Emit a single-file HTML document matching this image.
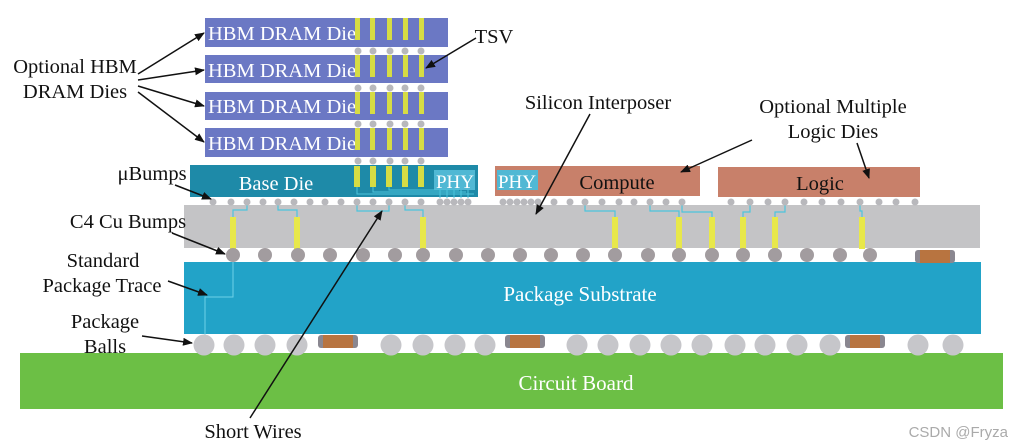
<!DOCTYPE html>
<html><head><meta charset="utf-8"><style>
html,body{margin:0;padding:0;background:#fff;}
svg{display:block;font-family:"Liberation Serif",serif;}
</style></head><body>
<svg width="1017" height="448" viewBox="0 0 1017 448" xmlns="http://www.w3.org/2000/svg">
<defs><marker id="a" markerWidth="10" markerHeight="8" refX="9" refY="4" orient="auto" markerUnits="userSpaceOnUse"><path d="M0,0 L10,4 L0,8 z" fill="#111"/></marker></defs>
<!-- board -->
<rect x="20" y="353" width="983" height="56" fill="#6cbf45"/>
<text x="576" y="390" font-size="21" fill="#fff" text-anchor="middle">Circuit Board</text>
<!-- substrate -->
<rect x="184" y="262" width="797" height="72" fill="#22a3c8"/>
<text x="580" y="301" font-size="21" fill="#fff" text-anchor="middle">Package Substrate</text>
<polyline points="233,262 233,297 205,297 205,336" fill="none" stroke="#6fd0e8" stroke-width="1"/>
<!-- interposer -->
<rect x="184" y="205" width="796" height="43" fill="#c4c4c6"/>
<g fill="#e8e84a">
<rect x="230" y="217" width="6" height="32"/><rect x="294" y="217" width="6" height="32"/><rect x="420" y="217" width="6" height="32"/>
<rect x="612" y="217" width="6" height="32"/><rect x="676" y="217" width="6" height="32"/><rect x="709" y="217" width="6" height="32"/>
<rect x="740" y="217" width="6" height="32"/><rect x="772" y="217" width="6" height="32"/><rect x="859" y="217" width="6" height="32"/>
</g>
<g fill="none" stroke="#4cc4dc" stroke-width="1.2">
<polyline points="247,203 247,210 233,210 233,217"/>
<polyline points="278,203 278,210 297,210 297,217"/>
<polyline points="357,203 357,211 389,211 389,203"/>
<polyline points="405,203 405,210 423,210 423,217"/>
<polyline points="585,203 585,211 615,211 615,217"/>
<polyline points="650,203 650,211 679,211 679,217"/>
<polyline points="682,203 682,212 712,212 712,217"/>
<polyline points="750,203 750,212 743,212 743,217"/>
<polyline points="785,203 785,212 775,212 775,217"/>
<polyline points="860,203 860,211 862,211 862,217"/>
</g>
<!-- C4 bumps -->
<g fill="#a29c9f">
<circle cx="233" cy="255" r="7"/><circle cx="265" cy="255" r="7"/><circle cx="298" cy="255" r="7"/><circle cx="330" cy="255" r="7"/><circle cx="363" cy="255" r="7"/><circle cx="395" cy="255" r="7"/><circle cx="423" cy="255" r="7"/><circle cx="456" cy="255" r="7"/><circle cx="488" cy="255" r="7"/><circle cx="520" cy="255" r="7"/><circle cx="551" cy="255" r="7"/><circle cx="583" cy="255" r="7"/><circle cx="615" cy="255" r="7"/><circle cx="648" cy="255" r="7"/><circle cx="679" cy="255" r="7"/><circle cx="712" cy="255" r="7"/><circle cx="743" cy="255" r="7"/><circle cx="775" cy="255" r="7"/><circle cx="807" cy="255" r="7"/><circle cx="840" cy="255" r="7"/><circle cx="870" cy="255" r="7"/>
</g>
<!-- package balls -->
<g fill="#c6c6ca">
<circle cx="204" cy="345" r="10.5"/><circle cx="234" cy="345" r="10.5"/><circle cx="265" cy="345" r="10.5"/><circle cx="297" cy="345" r="10.5"/><circle cx="391" cy="345" r="10.5"/><circle cx="423" cy="345" r="10.5"/><circle cx="455" cy="345" r="10.5"/><circle cx="485" cy="345" r="10.5"/><circle cx="577" cy="345" r="10.5"/><circle cx="608" cy="345" r="10.5"/><circle cx="640" cy="345" r="10.5"/><circle cx="671" cy="345" r="10.5"/><circle cx="702" cy="345" r="10.5"/><circle cx="735" cy="345" r="10.5"/><circle cx="765" cy="345" r="10.5"/><circle cx="797" cy="345" r="10.5"/><circle cx="830" cy="345" r="10.5"/><circle cx="918" cy="345" r="10.5"/><circle cx="953" cy="345" r="10.5"/>
</g>
<!-- capacitors -->
<g>
<rect x="318" y="335" width="40" height="13" rx="3" fill="#8a8790"/><rect x="323" y="335" width="30" height="13" fill="#b87440"/>
<rect x="505" y="335" width="40" height="13" rx="3" fill="#8a8790"/><rect x="510" y="335" width="30" height="13" fill="#b87440"/>
<rect x="845" y="335" width="40" height="13" rx="3" fill="#8a8790"/><rect x="850" y="335" width="30" height="13" fill="#b87440"/>
<rect x="915" y="250" width="40" height="13" rx="3" fill="#8a8790"/><rect x="920" y="250" width="30" height="13" fill="#b87440"/>
</g>
<!-- HBM dies -->
<g fill="#6b78c4">
<rect x="205" y="18" width="243" height="29"/><rect x="205" y="55" width="243" height="28"/><rect x="205" y="92" width="243" height="28"/><rect x="205" y="128" width="243" height="29"/>
</g>
<g font-size="20.5" fill="#fff">
<text x="208" y="40">HBM DRAM Die</text><text x="208" y="77">HBM DRAM Die</text><text x="208" y="113">HBM DRAM Die</text><text x="208" y="150">HBM DRAM Die</text>
</g>
<g fill="#d6dc44">
<rect x="355" y="18" width="5" height="22"/><rect x="370" y="18" width="5" height="22"/><rect x="387" y="18" width="5" height="22"/><rect x="403" y="18" width="5" height="22"/><rect x="419" y="18" width="5" height="22"/>
<rect x="355" y="55" width="5" height="22"/><rect x="370" y="55" width="5" height="22"/><rect x="387" y="55" width="5" height="22"/><rect x="403" y="55" width="5" height="22"/><rect x="419" y="55" width="5" height="22"/>
<rect x="355" y="92" width="5" height="22"/><rect x="370" y="92" width="5" height="22"/><rect x="387" y="92" width="5" height="22"/><rect x="403" y="92" width="5" height="22"/><rect x="419" y="92" width="5" height="22"/>
<rect x="355" y="128" width="5" height="22"/><rect x="370" y="128" width="5" height="22"/><rect x="387" y="128" width="5" height="22"/><rect x="403" y="128" width="5" height="22"/><rect x="419" y="128" width="5" height="22"/>
</g>
<g fill="#b8b8bc">
<circle cx="358" cy="51" r="3.5"/><circle cx="373" cy="51" r="3.5"/><circle cx="390" cy="51" r="3.5"/><circle cx="405" cy="51" r="3.5"/><circle cx="421" cy="51" r="3.5"/>
<circle cx="358" cy="88" r="3.5"/><circle cx="373" cy="88" r="3.5"/><circle cx="390" cy="88" r="3.5"/><circle cx="405" cy="88" r="3.5"/><circle cx="421" cy="88" r="3.5"/>
<circle cx="358" cy="124" r="3.5"/><circle cx="373" cy="124" r="3.5"/><circle cx="390" cy="124" r="3.5"/><circle cx="405" cy="124" r="3.5"/><circle cx="421" cy="124" r="3.5"/>
<circle cx="358" cy="161" r="3.5"/><circle cx="373" cy="161" r="3.5"/><circle cx="390" cy="161" r="3.5"/><circle cx="405" cy="161" r="3.5"/><circle cx="421" cy="161" r="3.5"/>
</g>
<!-- base die -->
<rect x="190" y="165" width="288" height="32" fill="#1e8aa8"/>
<text x="276" y="190" font-size="20.5" fill="#fff" text-anchor="middle">Base Die</text>
<rect x="434" y="170" width="41" height="20" fill="#50b8d4"/>
<text x="455" y="188" font-size="19" fill="#fff" text-anchor="middle">PHY</text>
<g fill="#d6dc44"><rect x="354" y="166" width="6" height="21"/><rect x="370" y="166" width="6" height="21"/><rect x="386" y="166" width="6" height="21"/><rect x="402" y="166" width="6" height="21"/><rect x="418" y="166" width="6" height="21"/></g>
<g fill="none" stroke="#4cc4dc" stroke-width="1"><polyline points="357,187 357,194 474,194"/><polyline points="373,187 373,192 466,192"/><polyline points="389,187 389,190 459,190"/><path d="M440,190v8M447,190v8M454,190v8M461,190v8M468,190v8"/></g>
<!-- compute & logic -->
<rect x="495" y="166" width="205" height="30" fill="#c8806a"/>
<rect x="497" y="170" width="41" height="20" fill="#50b8d4"/>
<text x="517" y="188" font-size="19" fill="#fff" text-anchor="middle">PHY</text>
<text x="617" y="189" font-size="20.5" fill="#111" text-anchor="middle">Compute</text>
<rect x="718" y="167" width="202" height="30" fill="#c8806a"/>
<text x="820" y="190" font-size="20.5" fill="#111" text-anchor="middle">Logic</text>
<!-- microbumps -->
<g fill="#b8b8bc">
<circle cx="213" cy="202" r="3.5"/><circle cx="231" cy="202" r="3.5"/><circle cx="247" cy="202" r="3.5"/><circle cx="263" cy="202" r="3.5"/><circle cx="278" cy="202" r="3.5"/><circle cx="294" cy="202" r="3.5"/><circle cx="310" cy="202" r="3.5"/><circle cx="325" cy="202" r="3.5"/><circle cx="341" cy="202" r="3.5"/><circle cx="357" cy="202" r="3.5"/><circle cx="373" cy="202" r="3.5"/><circle cx="389" cy="202" r="3.5"/><circle cx="405" cy="202" r="3.5"/><circle cx="421" cy="202" r="3.5"/>
<circle cx="440" cy="202" r="3.5"/><circle cx="447" cy="202" r="3.5"/><circle cx="454" cy="202" r="3.5"/><circle cx="461" cy="202" r="3.5"/><circle cx="468" cy="202" r="3.5"/>
<circle cx="503" cy="202" r="3.5"/><circle cx="510" cy="202" r="3.5"/><circle cx="517" cy="202" r="3.5"/><circle cx="524" cy="202" r="3.5"/><circle cx="531" cy="202" r="3.5"/><circle cx="538" cy="202" r="3.5"/>
<circle cx="554" cy="202" r="3.5"/><circle cx="570" cy="202" r="3.5"/><circle cx="585" cy="202" r="3.5"/><circle cx="602" cy="202" r="3.5"/><circle cx="619" cy="202" r="3.5"/><circle cx="634" cy="202" r="3.5"/><circle cx="650" cy="202" r="3.5"/><circle cx="666" cy="202" r="3.5"/><circle cx="682" cy="202" r="3.5"/>
<circle cx="731" cy="202" r="3.5"/><circle cx="750" cy="202" r="3.5"/><circle cx="768" cy="202" r="3.5"/><circle cx="785" cy="202" r="3.5"/><circle cx="804" cy="202" r="3.5"/><circle cx="822" cy="202" r="3.5"/><circle cx="841" cy="202" r="3.5"/><circle cx="860" cy="202" r="3.5"/><circle cx="879" cy="202" r="3.5"/><circle cx="896" cy="202" r="3.5"/><circle cx="915" cy="202" r="3.5"/>
</g>
<!-- labels -->
<g font-size="20.5" fill="#111" text-anchor="middle">
<text x="75" y="73">Optional HBM</text><text x="75" y="98">DRAM Dies</text>
<text x="494" y="43">TSV</text>
<text x="598" y="109">Silicon Interposer</text>
<text x="833" y="113">Optional Multiple</text><text x="833" y="138">Logic Dies</text>
<text x="152" y="180">μBumps</text>
<text x="128" y="228">C4 Cu Bumps</text>
<text x="103" y="267">Standard</text><text x="102" y="292">Package Trace</text>
<text x="105" y="328">Package</text><text x="105" y="353">Balls</text>
<text x="253" y="438">Short Wires</text>
</g>
<text x="1008" y="437" font-size="15" fill="#aaa" text-anchor="end" font-family="Liberation Sans,sans-serif">CSDN @Fryza</text>
<!-- arrows -->
<g stroke="#111" stroke-width="1.5" fill="none" marker-end="url(#a)">
<line x1="138" y1="74" x2="204" y2="33"/><line x1="138" y1="80" x2="204" y2="70"/><line x1="138" y1="86" x2="204" y2="106"/><line x1="138" y1="92" x2="204" y2="142"/>
<line x1="476" y1="38" x2="426" y2="68"/>
<line x1="590" y1="114" x2="536" y2="214"/>
<line x1="752" y1="140" x2="681" y2="172"/>
<line x1="857" y1="143" x2="869" y2="178"/>
<line x1="175" y1="185" x2="211" y2="199"/>
<line x1="172" y1="233" x2="225" y2="254"/>
<line x1="168" y1="281" x2="207" y2="295"/>
<line x1="142" y1="336" x2="192" y2="343"/>
<line x1="250" y1="418" x2="382" y2="211"/>
</g>
</svg>
</body></html>
